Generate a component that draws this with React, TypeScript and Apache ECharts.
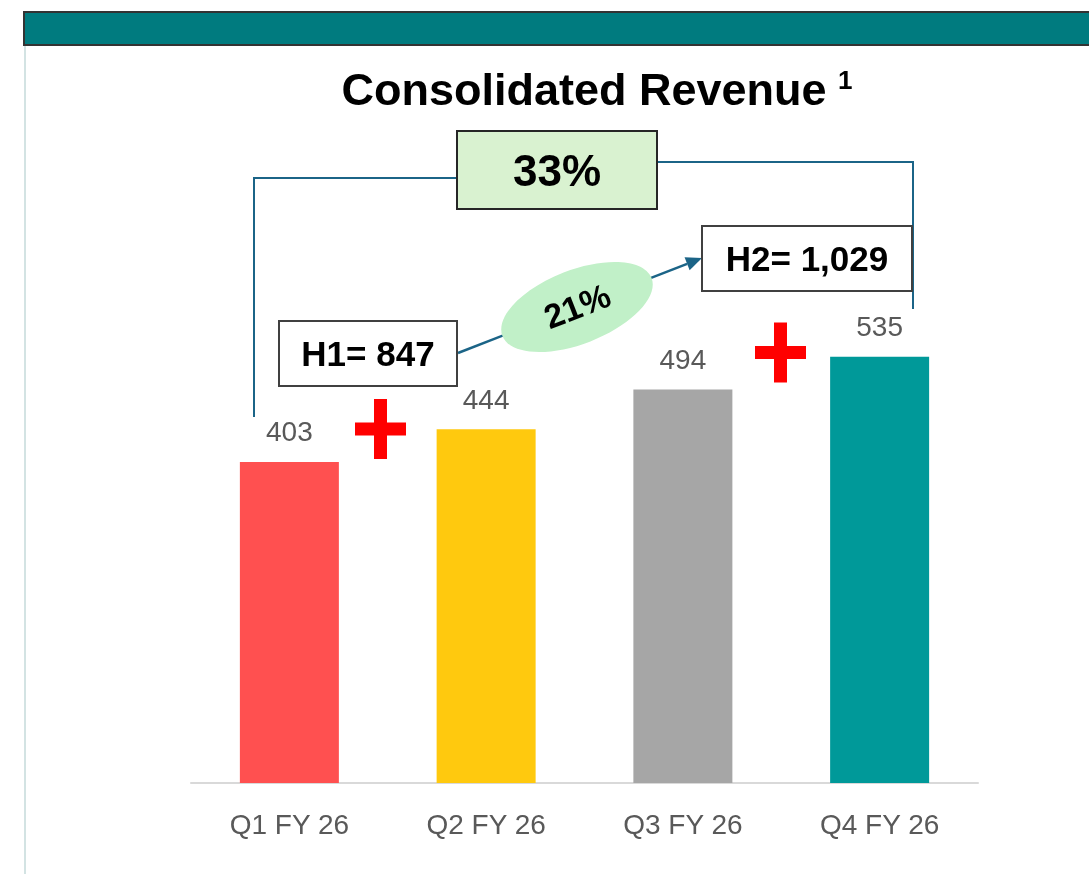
import React, { useEffect, useRef } from "react";
import * as echarts from "echarts";

const categories = ["Q1 FY 26", "Q2 FY 26", "Q3 FY 26", "Q4 FY 26"];
const revenue = [403, 444, 494, 535];
const barColors = ["#FF5050", "#FFC90E", "#A6A6A6", "#009999"];
const titleText = "Consolidated Revenue";
const h1Label = "H1= 847";
const h2Label = "H2= 1,029";
const yoyLabel = "33%";
const hohLabel = "21%";

const FONT = "'Liberation Sans', Arial, Helvetica, sans-serif";
const LINE = "#1B6487";

export default function App() {
  const ref = useRef<HTMLDivElement>(null);
  useEffect(() => {
    document.body.style.margin = "0";
    const chart = echarts.init(ref.current!, null, { renderer: "svg" });

    // arrow geometry
    const sx = 458, sy = 353, tx = 702, ty = 258;
    const dx = tx - sx, dy = ty - sy;
    const len = Math.sqrt(dx * dx + dy * dy);
    const ux = dx / len, uy = dy / len;
    const hl = 16, hw = 7;
    const bx = tx - ux * hl, by = ty - uy * hl;
    const px = -uy, py = ux;
    const ang = Math.atan2(-dy, dx);

    const plus = (cx: number, cy: number) => [
      { type: "rect", shape: { x: cx - 25.5, y: cy - 6.5, width: 51, height: 13 }, style: { fill: "#FF0000" }, z: 10 },
      { type: "rect", shape: { x: cx - 6.5, y: cy - 30, width: 13, height: 60 }, style: { fill: "#FF0000" }, z: 10 },
    ];

    const box = (x: number, y: number, w: number, h: number, fill: string, stroke: string, text: string, size: number) => [
      { type: "rect", shape: { x, y, width: w, height: h }, style: { fill, stroke, lineWidth: 2 }, z: 10 },
      {
        type: "text", x: x + w / 2, y: y + h / 2, z: 11,
        style: { text, fill: "#000", font: `bold ${size}px ${FONT}`, textAlign: "center", textVerticalAlign: "middle" },
      },
    ];

    chart.setOption({
      animation: false,
      grid: { left: 191, right: 111, top: 305, bottom: 91, containLabel: false },
      xAxis: {
        type: "category",
        data: categories,
        axisLine: { lineStyle: { color: "#D9D9D9", width: 2 } },
        axisTick: { show: false },
        axisLabel: { color: "#595959", fontSize: 28, fontFamily: FONT, margin: 27 },
      },
      yAxis: { type: "value", min: 0, max: 600, show: false, splitLine: { show: false } },
      series: [
        {
          type: "bar",
          barWidth: 99,
          data: revenue.map((v, i) => ({ value: v, itemStyle: { color: barColors[i] } })),
          label: { show: true, position: "top", distance: 16, color: "#595959", fontSize: 28, fontFamily: FONT },
        },
      ],
      graphic: [
        { type: "rect", shape: { x: 24, y: 12, width: 1080, height: 33 }, style: { fill: "#007B7F", stroke: "#333333", lineWidth: 2 } },
        { type: "line", shape: { x1: 25, y1: 46, x2: 25, y2: 874 }, style: { stroke: "#D3E3E3", lineWidth: 2 } },
        {
          type: "text", x: 584, y: 89,
          style: { text: titleText, fill: "#000", font: `bold 45px ${FONT}`, textAlign: "center", textVerticalAlign: "middle" },
        },
        {
          type: "text", x: 838, y: 80,
          style: { text: "1", fill: "#000", font: `bold 26px ${FONT}`, textAlign: "left", textVerticalAlign: "middle" },
        },
        { type: "polyline", shape: { points: [[254, 417], [254, 178], [457, 178]] }, style: { stroke: LINE, lineWidth: 2, fill: null }, z: 5 },
        { type: "polyline", shape: { points: [[657, 162], [913, 162], [913, 309]] }, style: { stroke: LINE, lineWidth: 2, fill: null }, z: 5 },
        ...box(457, 131, 200, 78, "#D9F2D0", "#262626", yoyLabel, 44),
        ...box(279, 321, 178, 65, "#FFFFFF", "#404040", h1Label, 35),
        ...box(702, 226, 210, 65, "#FFFFFF", "#404040", h2Label, 35),
        { type: "line", shape: { x1: sx, y1: sy, x2: bx, y2: by }, style: { stroke: LINE, lineWidth: 2.5 }, z: 6 },
        {
          type: "polygon",
          shape: { points: [[tx, ty], [bx + px * hw, by + py * hw], [bx - px * hw, by - py * hw]] },
          style: { fill: LINE },
          z: 6,
        },
        {
          type: "ellipse", x: 577, y: 307, rotation: ang,
          shape: { cx: 0, cy: 0, rx: 80, ry: 37 },
          style: { fill: "#C1F0C8" },
          z: 7,
        },
        {
          type: "text", x: 577, y: 306, rotation: ang, z: 8,
          style: { text: hohLabel, fill: "#000", font: `bold 34px ${FONT}`, textAlign: "center", textVerticalAlign: "middle" },
        },
        ...plus(380.5, 429),
        ...plus(780.5, 352.5),
      ],
    });
    return () => chart.dispose();
  }, []);
  return <div ref={ref} style={{ position: "fixed", left: 0, top: 0, width: 1089, height: 874 }} />;
}
